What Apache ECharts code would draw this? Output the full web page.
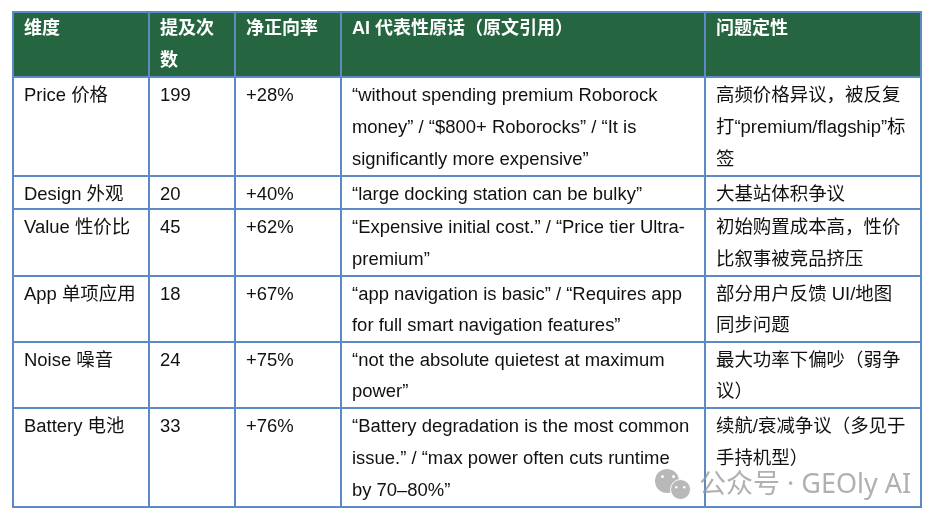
<!DOCTYPE html>
<html>
<head>
<meta charset="utf-8">
<style>html,body{margin:0;padding:0;background:#fff}#main{width:942px;height:523px}</style>
<script src="https://cdn.jsdelivr.net/npm/echarts@6/dist/echarts.min.js"></script>
</head>
<body>
<div id="main"></div>
<script>
var headers = ['维度', '提及次\n数', '净正向率', 'AI 代表性原话（原文引用）', '问题定性'];
var dimensions = ['Price 价格', 'Design 外观', 'Value 性价比', 'App 单项应用', 'Noise 噪音', 'Battery 电池'];
var mentions = ['199', '20', '45', '18', '24', '33'];
var netRates = ['+28%', '+40%', '+62%', '+67%', '+75%', '+76%'];
var quotes = [
	'“without spending premium Roborock\nmoney” / “$800+ Roborocks” / “It is\nsignificantly more expensive”',
	'“large docking station can be bulky”',
	'“Expensive initial cost.” / “Price tier Ultra-\npremium”',
	'“app navigation is basic” / “Requires app\nfor full smart navigation features”',
	'“not the absolute quietest at maximum\npower”',
	'“Battery degradation is the most common\nissue.” / “max power often cuts runtime\nby 70–80%”'
];
var issues = [
	'高频价格异议，被反复\n打“premium/flagship”标\n签',
	'大基站体积争议',
	'初始购置成本高，性价\n比叙事被竞品挤压',
	'部分用户反馈 UI/地图\n同步问题',
	'最大功率下偏吵（弱争\n议）',
	'续航/衰减争议（多见于\n手持机型）'
];
var columnWidths = [136, 86, 106, 364, 216];
var rowHeights = [99, 33, 67, 66, 66, 99];
var fontStack = '"Liberation Sans", "Noto Sans CJK SC", sans-serif';

var columns = [dimensions, mentions, netRates, quotes, issues];
var cells = [];
columns.forEach(function (col, c) {
	col.forEach(function (text, r) {
		var cell = {coord: [c, r], value: text};
		// the offset eats into the cell height, lines that no longer fit get dropped
		if (r === 1) {
			cell.label = {lineHeight: 26, offset: [0, 6]};
		} else if (r === 3 || r === 4) {
			cell.label = {lineHeight: 31.5};
		}
		cells.push(cell);
	});
});

var chart = echarts.init(document.getElementById('main'));
chart.setOption({
	animation: false,
	matrix: {
		left: 13,
		top: 12,
		width: 908,
		height: 495,
		backgroundStyle: {borderWidth: 0},
		borderZ2: 10,
		x: {
			levelSize: 65,
			data: headers.map(function (h, i) {
				return {value: h, size: columnWidths[i]};
			}),
			label: {
				color: '#fff',
				fontFamily: fontStack,
				fontSize: 18,
				fontWeight: 'bold',
				lineHeight: 32,
				overflow: 'none',
				position: 'insideTopLeft',
				align: 'left',
				verticalAlign: 'top',
				distance: 0,
				offset: [0, 1],
				padding: [0, 0, 0, 11]
			},
			itemStyle: {color: '#256641', borderColor: '#5b8ac5', borderWidth: 2}
		},
		y: {
			show: false,
			data: dimensions.map(function (d, i) {
				return {value: d, size: rowHeights[i]};
			})
		},
		body: {
			data: cells,
			label: {
				color: '#111',
				fontFamily: fontStack,
				fontSize: 18.45,
				lineHeight: 32,
				overflow: 'none',
				position: 'insideTopLeft',
				align: 'left',
				verticalAlign: 'top',
				distance: 0,
				offset: [0, 3],
				padding: [0, 0, 0, 11]
			},
			itemStyle: {color: '#fff', borderColor: '#5b8ac5', borderWidth: 2}
		}
	},
	graphic: [
		{type: 'circle', left: 655, top: 469, shape: {r: 12}, style: {fill: '#b8b8b8'}, silent: true, z: 20},
		{type: 'circle', left: 670, top: 479, shape: {r: 10}, style: {fill: '#b8b8b8', stroke: '#fff', lineWidth: 1}, silent: true, z: 21},
		{type: 'circle', left: 661, top: 475, shape: {r: 1.5}, style: {fill: '#fff'}, silent: true, z: 22},
		{type: 'circle', left: 672, top: 475, shape: {r: 1.5}, style: {fill: '#fff'}, silent: true, z: 20},
		{type: 'circle', left: 675, top: 486, shape: {r: 1.3}, style: {fill: '#fff'}, silent: true, z: 22},
		{type: 'circle', left: 683, top: 486, shape: {r: 1.3}, style: {fill: '#fff'}, silent: true, z: 22},
		{
			type: 'text', left: 699, top: 472, z: 20, silent: true,
			style: {text: '公众号 · GEOly AI', fill: 'rgba(150,150,150,0.75)', font: '27px "Noto Sans", "Noto Sans CJK SC"'}
		}
	]
});
</script>
</body>
</html>
